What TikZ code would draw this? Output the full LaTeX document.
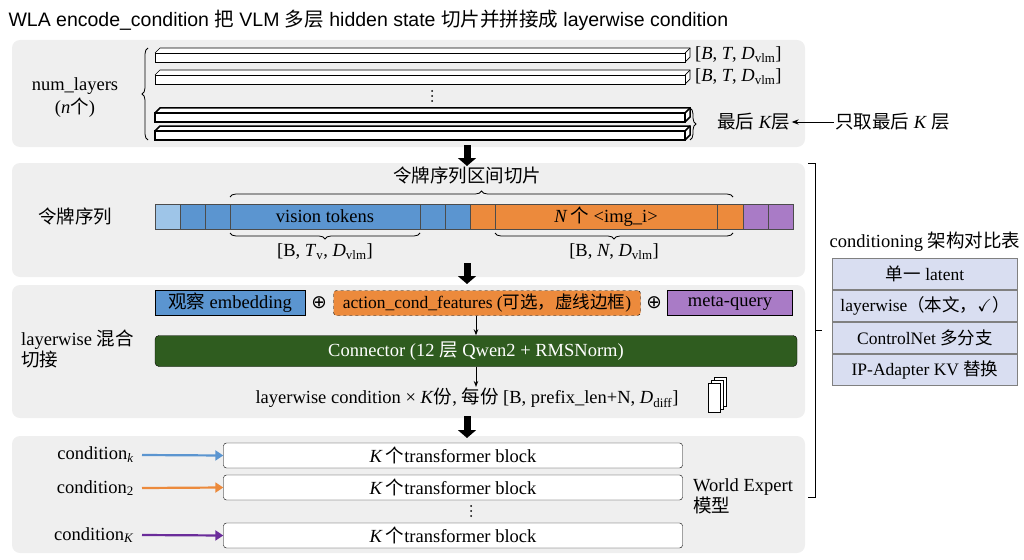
\documentclass[tikz,border=0pt]{standalone}
\usepackage{amssymb}
\usepackage{fontspec}
\setmainfont{Liberation Serif}
\newfontfamily\cjk{Noto Sans CJK SC}
\newfontfamily\sansf{Liberation Sans}
\newfontfamily\djv{DejaVu Sans}
\usetikzlibrary{decorations.pathreplacing,arrows.meta}
\newcommand{\mi}[1]{\textit{#1}}
\newcommand{\sbs}[1]{\textsubscript{#1}}
\newcommand{\vd}[2]{\foreach \k in {-5,0,5}{\fill (#1,#2+\k) circle (1pt);}}
\definecolor{panel}{HTML}{EFEFEF}
\definecolor{tblue}{HTML}{5B95D0}
\definecolor{lblue}{HTML}{9EC5E8}
\definecolor{torange}{HTML}{EC8A3C}
\definecolor{tpurple}{HTML}{A97BC6}
\definecolor{dgreen}{HTML}{2F5C1F}
\definecolor{lav}{HTML}{D9DEF1}
\definecolor{apurple}{HTML}{6A2C9A}
\tikzset{
 panel/.style={fill=panel,draw=none,rounded corners=8pt},
 layer/.style={draw=black,fill=white,line width=0.7pt},
 blayer/.style={draw=black,fill=white,line width=1.5pt},
 tok/.style={draw=black!70,line width=0.5pt,minimum height=25pt,inner sep=0pt},
 bigarrow/.style={-{Triangle[length=8pt,width=18pt]},line width=7pt},
 br/.style={decorate,decoration={brace,amplitude=6pt},line width=0.8pt},
 blk/.style={draw=black,rounded corners=3pt,fill=white,minimum width=459pt,minimum height=25pt,inner sep=0pt,font=\fontsize{18.5}{18.5}\selectfont},
 row/.style={draw=gray,fill=lav,minimum width=185pt,minimum height=31pt,inner sep=0pt,font=\fontsize{17.5}{17.5}\selectfont},
 lbl/.style={font=\fontsize{18.5}{21}\selectfont,inner sep=1pt},
 cond/.style={-{Triangle[length=8pt,width=10pt]},line width=2.2pt}
}
\begin{document}
\begin{tikzpicture}[x=1pt,y=-1pt]
\useasboundingbox (0,0) rectangle (1024,559);
\node[anchor=west,font=\sansf\fontsize{19.5}{19.5}\selectfont] (title) at (5,20) {WLA encode\_condition {\cjk 把} VLM {\cjk 多层} hidden state {\cjk 切片并拼接成} layerwise condition};
% panels
\fill[panel] (12,40) rectangle (805,147);
\fill[panel] (12,163) rectangle (805,277);
\fill[panel] (12,285) rectangle (805,418);
\fill[panel] (12,436) rectangle (805,553);
% layers
\foreach \y/\s in {48/layer,70/layer,108/blayer,126/blayer}{
 \draw[\s] (155,\y+5) -- (160,\y) -- (690,\y) -- (690,\y+9) -- (685,\y+14);
 \draw[\s] (155,\y+5) rectangle (685,\y+14);
 \draw[\s] (685,\y+5) -- (690,\y);
}
\vd{432}{96}
\node[lbl,anchor=west] (s1) at (694,55) {[\mi{B}, \mi{T}, \mi{D}\sbs{vlm}]};
\node[lbl,anchor=west] (s2) at (694,77) {[\mi{B}, \mi{T}, \mi{D}\sbs{vlm}]};
\draw[br] (148,140) -- (148,48);
\node[lbl] (nl) at (75,86) {num\_layers};
\node[lbl] (nn) at (75,108) {(\mi{n}{\cjk 个})};
\draw[br] (690,108) -- (690,140);
\node[lbl,anchor=west] (lastK) at (716,122) {{\cjk 最后} \mi{K}{\cjk 层}};
\node[lbl,anchor=west] (onlyK) at (834,122) {{\cjk 只取最后} \mi{K} {\cjk 层}};
\draw[-{Stealth[length=7pt]},line width=1pt] (onlyK.west) -- (lastK.east);
\coordinate (a1s) at (467,145); \coordinate (a1e) at (467,166);
\draw[bigarrow] (a1s) -- (a1e);
% token sequence
\node[lbl] (slice) at (467,175) {\cjk 令牌序列区间切片};
\draw[br] (230,197) -- (733,197);
\node[lbl] (tseq) at (75,216) {\cjk 令牌序列};
\foreach \a/\b/\c in {155/180/lblue,180/205/tblue,205/230/tblue,420/445/tblue,445/470/tblue,470/495/torange,717/743/torange,743/768/tpurple,768/793/tpurple}{
 \draw[draw=black!70,fill=\c] (\a,204) rectangle (\b,229);}
\node[tok,fill=tblue,minimum width=190pt] (vis) at (325,216.5) {\fontsize{18.5}{18.5}\selectfont vision tokens};
\node[tok,fill=torange,minimum width=222pt] (img) at (606,216.5) {\fontsize{18.5}{18.5}\selectfont \mi{N}\,{\cjk 个} <img\_i>};
\draw[br] (420,233) -- (230,233);
\draw[br] (733,233) -- (495,233);
\node[lbl] (bv) at (325,252) {[B, \mi{T}\sbs{v}, \mi{D}\sbs{vlm}]};
\node[lbl] (bn) at (614,252) {[B, \mi{N}, \mi{D}\sbs{vlm}]};
\coordinate (a2s) at (467,263); \coordinate (a2e) at (467,284);
\draw[bigarrow] (a2s) -- (a2e);
% connector panel
\node[draw=black,fill=tblue,minimum width=150pt,minimum height=25pt,inner sep=0pt,lbl] (obs) at (230,303) {{\cjk 观察} embedding};
\node[lbl] (p1) at (319,303) {\djv ⊕};
\node[draw=black,dashed,fill=torange,rounded corners=3pt,minimum width=307pt,minimum height=25pt,inner sep=0pt,font=\fontsize{17.5}{17.5}\selectfont] (act) at (487,303) {action\_cond\_features ({\cjk 可选，虚线边框})};
\node[lbl] (p2) at (654,303) {\djv ⊕};
\node[draw=black,fill=tpurple,minimum width=125pt,minimum height=25pt,inner sep=0pt,lbl] (mq) at (730,303) {meta-query};
\node[draw=black,fill=dgreen,rounded corners=4pt,minimum width=642pt,minimum height=31pt,inner sep=0pt,text=white,lbl] (conn) at (476,351) {Connector (12 {\cjk 层} Qwen2 + RMSNorm)};
\node[lbl] (lc) at (467,398) {layerwise condition × \mi{K}{\cjk 份}, {\cjk 每份} [B, prefix\_len+N, \mi{D}\sbs{diff}]};
\draw[-{Stealth[length=6pt]},line width=1pt] (act.south -| conn.north) -- (conn.north);
\draw[-{Stealth[length=6pt]},line width=1pt] (conn.south) -- (lc.north -| conn.south);
\node[lbl,anchor=west,align=left] (lw) at (20,349) {layerwise {\cjk 混合}\\{\cjk 切接}};
\foreach \o in {6,3,0}{\draw[fill=white,line width=0.6pt] (708+\o,383-\o) rectangle (720+\o,412-\o);}
\coordinate (a3s) at (467,416); \coordinate (a3e) at (467,438);
\draw[bigarrow] (a3s) -- (a3e);
% world expert
\node[blk] (b1) at (453,455.5) {\mi{K}\,{\cjk 个}transformer block};
\node[blk] (b2) at (453,487.5) {\mi{K}\,{\cjk 个}transformer block};
\node[blk] (b3) at (453,535.5) {\mi{K}\,{\cjk 个}transformer block};
\vd{471}{511}
\node[lbl,anchor=east] (c1) at (135,455) {condition\sbs{\mi{k}}};
\node[lbl,anchor=east] (c2) at (135,488) {condition\sbs{2}};
\node[lbl,anchor=east] (c3) at (135,535) {condition\sbs{\mi{K}}};
\draw[cond,tblue] (c1.east) ++(7,0) -- (b1.west);
\draw[cond,torange] (c2.east) ++(7,0) -- (b2.west);
\draw[cond,apurple] (c3.east) ++(7,0) -- (b3.west);
\node[lbl,anchor=west,align=left] (we) at (692,496) {World Expert\\{\cjk 模型}};
% right bracket
\draw[line width=1pt] (808,163) -- (815,163) -- (815,497) -- (808,497);
\draw[line width=1pt] (815,330) -- (822,330);
\node[lbl] (ct) at (925,242) {conditioning {\cjk 架构对比表}};
\node[row] (r1) at (925,274) {{\cjk 单一} latent};
\node[row] (r2) at (925,306) {layerwise{\cjk （本文，}$\checkmark${\cjk ）}};
\node[row] (r3) at (925,338) {ControlNet {\cjk 多分支}};
\node[row] (r4) at (925,370) {IP-Adapter KV {\cjk 替换}};
\end{tikzpicture}
\end{document}
